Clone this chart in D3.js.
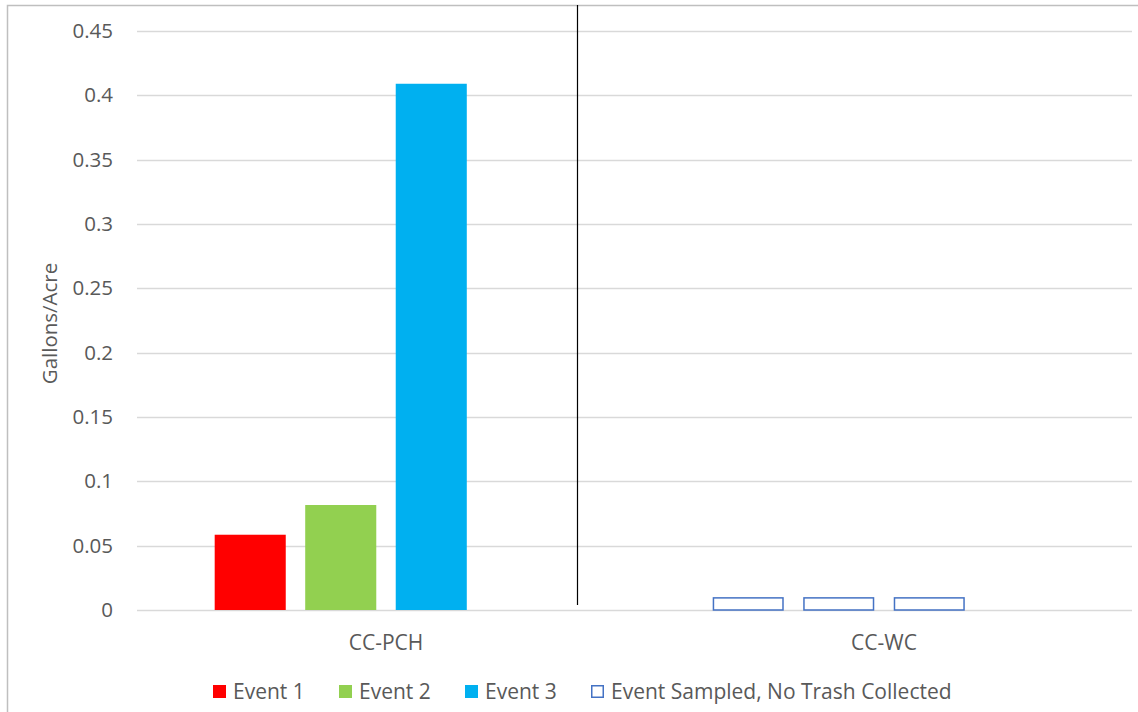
<!DOCTYPE html>
<html>
<head>
<meta charset="utf-8">
<script src="https://cdn.jsdelivr.net/npm/d3@7"></script>
<style>
  html, body { margin: 0; padding: 0; background: #fff; }
  svg { display: block; font-family: "Open Sans", "Liberation Sans", sans-serif; }
</style>
</head>
<body>
<svg id="chart" width="1138" height="712"></svg>
<script>
// Sites along the x axis
const sites = ["CC-PCH", "CC-WC"];
// Series slots within each site group
const series = ["Event 1", "Event 2", "Event 3", "No Trash"];
const seriesColors = ["#ff0000", "#92d050", "#00b0f0", "none"];

// Gallons per acre measured at each site, by event
const event1 = [0.0585, null];
const event2 = [0.0816, null];
const event3 = [0.409, null];
// Events sampled with nothing collected (drawn as outlined placeholders)
const sampledEmpty = [[null, null, null], [0.01, 0.01, 0.01]];

const yTicks = [0, 0.05, 0.1, 0.15, 0.2, 0.25, 0.3, 0.35, 0.4, 0.45];
const legendItems = ["Event 1", "Event 2", "Event 3", "Event Sampled, No Trash Collected"];

const svg = d3.select("#chart");
const margin = { left: 137, right: 5, top: 31, bottom: 102 };
const W = 1138, H = 712;
const plotW = W - margin.left - margin.right;
const plotH = H - margin.top - margin.bottom;
const textColor = "#595959";

// Chart-area frame (top and left edges visible)
svg.append("path")
  .attr("d", `M7.5,${H} L7.5,5.5 L${W},5.5`)
  .attr("fill", "none").attr("stroke", "#bfbfbf").attr("stroke-width", 1.5);

const g = svg.append("g").attr("transform", `translate(${margin.left},${margin.top})`);

const x = d3.scaleBand().domain(sites).range([0, plotW]).paddingInner(0).paddingOuter(0);
const y = d3.scaleLinear().domain([0, 0.45]).range([plotH, 0]);

// Slots inside each band: 4 bars, ~69% of the band in use
const groupW = x.bandwidth() * 0.688;
const xs = d3.scaleBand().domain(series).range([0, groupW]).paddingInner(0.215).paddingOuter(0);
const groupOffset = (x.bandwidth() - groupW) / 2;

// Horizontal gridlines
g.append("g").selectAll("line").data(yTicks).join("line")
  .attr("x1", 0).attr("x2", plotW - 1)
  .attr("y1", d => Math.round(y(d)) + 0.5).attr("y2", d => Math.round(y(d)) + 0.5)
  .attr("stroke", "#d9d9d9").attr("stroke-width", 1.5);

// Y axis tick labels
const yAxis = d3.axisLeft(y).tickValues(yTicks).tickSize(0).tickPadding(24)
  .tickFormat(d => d === 0 ? "0" : String(+d.toFixed(2)));
const yg = g.append("g").call(yAxis);
yg.select(".domain").remove();
yg.selectAll("text").attr("fill", textColor).style("font-size", "20.5px")
  .style("font-family", "\"Open Sans\", sans-serif");

// Filled event bars
const filled = [event1, event2, event3];
filled.forEach((vals, si) => {
  g.append("g").selectAll("rect").data(sites.map((s, i) => ({ site: s, v: vals[i] })).filter(d => d.v != null))
    .join("rect")
    .attr("x", d => x(d.site) + groupOffset + xs(series[si]))
    .attr("width", xs.bandwidth())
    .attr("y", d => y(d.v))
    .attr("height", d => y(0) - y(d.v))
    .attr("fill", seriesColors[si]);
});

// Outlined bars for sampled events with no trash
sites.forEach((s, i) => {
  sampledEmpty[i].forEach((v, si) => {
    if (v == null) return;
    g.append("rect")
      .attr("x", x(s) + groupOffset + xs(series[si]) + 0.75)
      .attr("width", xs.bandwidth() - 1.5)
      .attr("y", y(v) + 0.75)
      .attr("height", y(0) - y(v) - 0.75)
      .attr("fill", "none")
      .attr("stroke", "#4472c4").attr("stroke-width", 1.5);
  });
});

// Divider between sites
g.append("line")
  .attr("x1", x("CC-WC") - 57.5).attr("x2", x("CC-WC") - 57.5)
  .attr("y1", 5 - margin.top).attr("y2", plotH - 5)
  .attr("stroke", "#000").attr("stroke-width", 1.2);

// Category labels
g.append("g").selectAll("text").data(sites).join("text")
  .attr("x", d => x(d) + x.bandwidth() / 2)
  .attr("y", plotH + 40)
  .attr("text-anchor", "middle")
  .attr("fill", textColor).style("font-size", "21px")
  .text(d => d);

// Y axis title
svg.append("text")
  .attr("transform", `translate(57,${margin.top + plotH / 2 + 3}) rotate(-90)`)
  .attr("text-anchor", "middle")
  .attr("fill", textColor).style("font-size", "20.5px")
  .text("Gallons/Acre");

// Legend
const legendX = [213, 339, 465, 591];
const legend = svg.append("g");
legendItems.forEach((name, i) => {
  const lg = legend.append("g").attr("transform", `translate(${legendX[i]},685)`);
  if (i < 3) {
    lg.append("rect").attr("width", 13).attr("height", 13).attr("fill", seriesColors[i]);
  } else {
    lg.append("rect").attr("x", 0.75).attr("y", 0.75).attr("width", 11.5).attr("height", 11.5)
      .attr("fill", "none").attr("stroke", "#4472c4").attr("stroke-width", 1.5);
  }
  lg.append("text").attr("x", 20).attr("y", 13.5)
    .attr("fill", textColor).style("font-size", "21px").text(name);
});
</script>
</body>
</html>
